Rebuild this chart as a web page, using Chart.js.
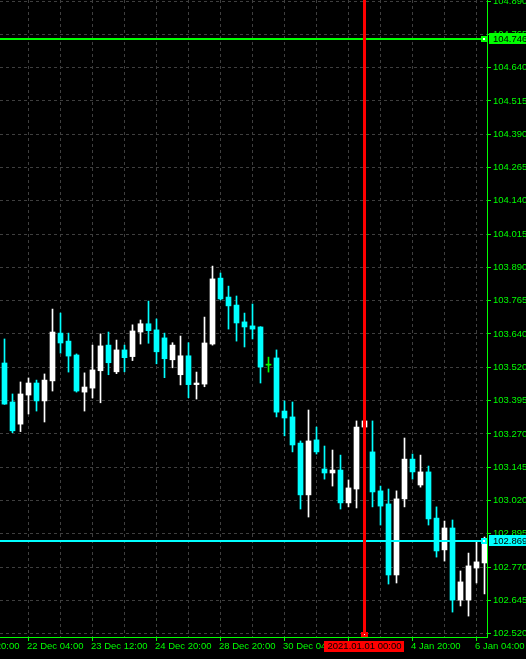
<!DOCTYPE html>
<html>
<head>
<meta charset="utf-8">
<script src="https://cdn.jsdelivr.net/npm/chart.js@4/dist/chart.umd.min.js"></script>
<style>
  html, body { margin: 0; padding: 0; background: #000; overflow: hidden; }
  canvas { display: block; }
</style>
</head>
<body>
<canvas id="chart" width="526" height="659"></canvas>
<script>
// USDJPY-style H4 candles, one entry per bar (bar index = position in the arrays)
const opens  = [103.534,103.388,103.305,103.414,103.459,103.392,103.467,103.646,103.616,103.564,
                103.425,103.440,103.505,103.601,103.501,103.583,103.558,103.650,103.681,103.658,
                103.628,103.546,103.490,103.561,103.453,103.455,103.605,103.852,103.781,103.751,
                103.688,103.673,103.669,103.526,103.553,103.354,103.332,103.234,103.040,103.246,
                103.137,103.122,103.133,103.010,103.062,103.294,103.201,103.055,103.006,102.740,
                103.025,103.174,103.077,103.126,102.953,102.834,102.916,102.646,102.646,102.766,
                102.785];
const highs  = [103.624,103.418,103.463,103.478,103.470,103.493,103.736,103.721,103.646,103.568,
                103.497,103.601,103.643,103.650,103.620,103.601,103.677,103.695,103.766,103.699,
                103.646,103.610,103.635,103.610,103.500,103.706,103.897,103.871,103.822,103.785,
                103.721,103.755,103.670,103.556,103.583,103.392,103.388,103.242,103.358,103.294,
                103.223,103.208,103.189,103.096,103.317,103.324,103.317,103.073,103.062,103.055,
                103.253,103.193,103.189,103.148,102.995,102.942,102.946,102.755,102.822,102.863,
                102.882];
const lows   = [103.379,103.273,103.277,103.343,103.354,103.313,103.429,103.571,103.500,103.425,
                103.354,103.403,103.385,103.490,103.494,103.501,103.543,103.605,103.608,103.531,
                103.479,103.516,103.452,103.404,103.399,103.445,103.601,103.770,103.661,103.616,
                103.594,103.624,103.459,103.500,103.332,103.261,103.201,102.987,102.957,103.193,
                103.099,103.073,102.987,102.995,102.991,103.272,102.995,102.927,102.706,102.710,
                102.995,103.099,103.069,102.927,102.807,102.792,102.601,102.624,102.586,102.710,
                102.669];
const closes = [103.380,103.280,103.418,103.459,103.392,103.470,103.650,103.609,103.560,103.429,
                103.444,103.508,103.598,103.535,103.583,103.554,103.654,103.681,103.655,103.576,
                103.550,103.601,103.561,103.453,103.459,103.609,103.849,103.774,103.748,103.684,
                103.669,103.661,103.519,103.526,103.350,103.328,103.227,103.040,103.242,103.201,
                103.122,103.133,103.010,103.066,103.294,103.317,103.051,102.998,102.740,103.025,
                103.174,103.126,103.126,102.950,102.830,102.916,102.646,102.714,102.774,102.789,
                102.869];

// time axis: a grid line every 4 bars, a label every 8 bars
const xTickBars = [-5, -1, 3, 7, 11, 15, 19, 23, 27, 31, 35, 39, 43, 47, 51, 55, 59];
const xTickText = ['18 Dec 20:00', '', '22 Dec 04:00', '', '23 Dec 12:00', '', '24 Dec 20:00', '',
                   '28 Dec 20:00', '', '30 Dec 04:00', '', '31 Dec 12:00', '', '4 Jan 20:00', '', '6 Jan 04:00'];

// price axis labels, top to bottom
const yTickLabels = ['104.890','104.765','104.640','104.515','104.390','104.265','104.140','104.015',
                     '103.890','103.765','103.640','103.520','103.395','103.270','103.145','103.020',
                     '102.895','102.770','102.645','102.520'];

// drawn objects
const alertLevel = 104.746;
const bidLevel = 102.869;
const markerBar = 45;
const markerText = '2021.01.01 00:00';

const LIME = '#00ff00';
const BULL = '#ffffff';
const BEAR = '#00ffff';
const DOJI = '#00ff00';
const GRID = '#3f3f3f';
const FONT_FAMILY = '"Liberation Sans", Arial, sans-serif';
const FONT_SIZE = 9.5;

const yTop = parseFloat(yTickLabels[0]);
const yBottom = parseFloat(yTickLabels[yTickLabels.length - 1]);
const yStep = (yTop - yBottom) / (yTickLabels.length - 1);
const pxPerUnit = 266.96;

const candleColor = i => closes[i] > opens[i] ? BULL : (closes[i] < opens[i] ? BEAR : DOJI);
const bars = opens.map((_, i) => i);

// price lines, the date marker and their tags
const overlay = {
  id: 'overlay',
  afterDatasetsDraw(chart) {
    const { ctx, chartArea: a, scales: { x, y } } = chart;
    ctx.save();
    [[alertLevel, LIME], [bidLevel, BEAR]].forEach(([level, color]) => {
      const py = Math.round(y.getPixelForValue(level));
      ctx.fillStyle = color;
      ctx.fillRect(a.left, py - 1, a.right - a.left, 2);
      ctx.fillRect(a.right - 6, py - 3, 6, 6);
      ctx.fillStyle = '#ffffff';
      ctx.fillRect(a.right - 4, py - 1, 2, 2);
    });
    const px = Math.floor(x.getPixelForValue(markerBar));
    ctx.fillStyle = '#ff0000';
    ctx.fillRect(px - 1, a.top, 3, a.bottom - a.top);
    ctx.fillRect(px - 3, a.bottom - 5, 7, 5);
    ctx.fillStyle = '#ffffff';
    ctx.fillRect(px, a.bottom - 3, 1, 1);
    ctx.restore();
  },
  afterDraw(chart) {
    const { ctx, chartArea: a, scales: { x, y } } = chart;
    ctx.save();
    ctx.font = FONT_SIZE + 'px ' + FONT_FAMILY;
    ctx.textBaseline = 'middle';
    [[alertLevel, LIME], [bidLevel, BEAR]].forEach(([level, color]) => {
      const py = Math.round(y.getPixelForValue(level));
      ctx.fillStyle = color;
      ctx.fillRect(a.right + 2, py - 6, chart.width - a.right - 2, 11);
      ctx.fillStyle = '#000000';
      ctx.textAlign = 'left';
      ctx.fillText(level.toFixed(3), a.right + 6, py);
    });
    const px = Math.floor(x.getPixelForValue(markerBar));
    ctx.fillStyle = '#ff0000';
    ctx.fillRect(px - 40, a.bottom + 4, 80, 11);
    ctx.fillStyle = '#000000';
    ctx.textAlign = 'center';
    ctx.fillText(markerText, px + 0.5, a.bottom + 9.5);
    ctx.restore();
  }
};

new Chart(document.getElementById('chart'), {
  type: 'bar',
  data: {
    datasets: [
      {
        label: 'shadow',
        data: bars.map(i => ({ x: i, y: [lows[i], highs[i]] })),
        backgroundColor: ctx => candleColor(ctx.dataIndex),
        barThickness: 1,
        grouped: false,
        borderWidth: 0,
        order: 2
      },
      {
        label: 'body',
        data: bars.map(i => ({ x: i, y: [opens[i], closes[i]] })),
        backgroundColor: ctx => candleColor(ctx.dataIndex),
        barThickness: 5,
        minBarLength: 1,
        grouped: false,
        borderWidth: 0,
        order: 1
      }
    ]
  },
  options: {
    responsive: false,
    animation: false,
    devicePixelRatio: 1,
    layout: { padding: 0 },
    plugins: { legend: { display: false }, tooltip: { enabled: false } },
    scales: {
      x: {
        type: 'linear',
        position: 'bottom',
        offset: false,
        min: -4.5 / 8,
        max: (487 - 4.5) / 8,
        afterBuildTicks: s => { s.ticks = xTickBars.map(v => ({ value: v })); },
        afterFit: s => { s.height = 22; s.paddingLeft = 0; s.paddingRight = 0; },
        ticks: {
          autoSkip: false, maxRotation: 0, minRotation: 0, align: 'start', padding: 0,
          labelOffset: -1.5,
          color: LIME, font: { family: FONT_FAMILY, size: FONT_SIZE },
          callback: (v, i) => xTickText[i]
        },
        grid: {
          offset: false,
          color: GRID, lineWidth: 1, tickLength: 4, tickWidth: 1,
          tickColor: ctx => (xTickText[ctx.index] ? LIME : 'rgba(0,0,0,0)')
        },
        border: { color: LIME, width: 1, dash: [3, 3] }
      },
      y: {
        type: 'linear',
        position: 'right',
        min: yBottom - 3.3 / pxPerUnit,
        max: yTop + 1 / pxPerUnit,
        afterBuildTicks: s => { s.ticks = yTickLabels.map((t, k) => ({ value: yTop - k * yStep })); },
        afterFit: s => { s.width = 39; s.paddingTop = 0; s.paddingBottom = 0; },
        ticks: {
          autoSkip: false, padding: 2,
          color: LIME, font: { family: FONT_FAMILY, size: FONT_SIZE },
          callback: (v, i) => yTickLabels[i]
        },
        grid: { color: GRID, lineWidth: 1, tickLength: 4, tickWidth: 1, tickColor: LIME },
        border: { color: LIME, width: 1, dash: [3, 3] }
      }
    }
  },
  plugins: [overlay]
});
</script>
</body>
</html>
